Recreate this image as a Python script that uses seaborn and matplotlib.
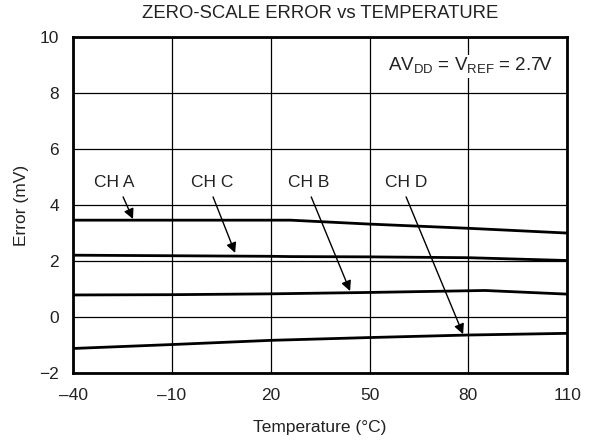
import matplotlib
matplotlib.use("Agg")
import matplotlib.pyplot as plt
import seaborn as sns
import pandas as pd

# Zero-scale error (mV) per channel versus temperature (°C)
temp = [-40, -10, 20, 26, 50, 80, 110]
ch_a = [3.46, 3.46, 3.46, 3.46, 3.32, 3.17, 3.00]
ch_c = [2.21, 2.19, 2.17, 2.16, 2.15, 2.12, 2.02]
temp_b = [-40, -10, 20, 50, 85, 110]
ch_b = [0.79, 0.80, 0.83, 0.88, 0.95, 0.82]
temp_d = [-40, -10, 20, 50, 80, 110]
ch_d = [-1.12, -0.98, -0.83, -0.73, -0.64, -0.58]

x_ticks = [-40, -10, 20, 50, 80, 110]
x_tick_labels = ["\u201340", "\u201310", "20", "50", "80", "110"]
y_ticks = [-2, 0, 2, 4, 6, 8, 10]
y_tick_labels = ["\u22122", "0", "2", "4", "6", "8", "10"]

# label position and arrow tip for each channel
labels = ["CH A", "CH C", "CH B", "CH D"]
label_x = [-27.5, 2.2, 31.4, 61.1]
tip_x = [-21.8, 9.2, 44.1, 78.4]
tip_y = [3.5, 2.29, 0.93, -0.61]
tail_x = [-24.8, 2.5, 32.3, 61.1]

frames = [
    pd.DataFrame({"T": temp, "E": ch_a, "ch": "A"}),
    pd.DataFrame({"T": temp, "E": ch_c, "ch": "C"}),
    pd.DataFrame({"T": temp_b, "E": ch_b, "ch": "B"}),
    pd.DataFrame({"T": temp_d, "E": ch_d, "ch": "D"}),
]
df = pd.concat(frames, ignore_index=True)

sns.set_theme(style="white")
plt.rcParams["font.family"] = ["Liberation Sans", "DejaVu Sans"]
plt.rcParams["mathtext.fontset"] = "custom"
plt.rcParams["mathtext.rm"] = "Liberation Sans"

TXT = "#222222"
FS = 12.5

fig = plt.figure(figsize=(5.89, 4.40), dpi=100)
ax = fig.add_axes([0.124, 0.152, 0.839, 0.764])

sns.lineplot(data=df, x="T", y="E", units="ch", estimator=None,
             color="black", linewidth=2.0, ax=ax, sort=False)

ax.set_xlim(-40, 110)
ax.set_ylim(-2, 10)
ax.set_xticks(x_ticks)
ax.set_xticklabels(x_tick_labels, fontsize=FS)
ax.set_yticks(y_ticks)
ax.set_yticklabels(y_tick_labels, fontsize=FS)
ax.tick_params(axis="x", length=0, pad=11, colors=TXT)
ax.tick_params(axis="y", length=0, pad=10, colors=TXT)
ax.grid(True, color="black", linewidth=0.9)
ax.set_axisbelow(True)
for s in ax.spines.values():
    s.set_visible(True)
    s.set_color("black")
    s.set_linewidth(2.0)

ax.set_xlabel("Temperature (\u00b0C)", fontsize=FS, color=TXT, va="center")
ax.set_ylabel("Error (mV)", fontsize=FS, color=TXT, va="center")
ax.xaxis.set_label_coords(0.5, -0.161)
ax.yaxis.set_label_coords(-0.105, 0.5)
fig.text(0.543, 0.970, "ZERO-SCALE ERROR vs TEMPERATURE", ha="center",
         va="center", fontsize=13.3, color=TXT)

for lab, lx, tx, ty, sx in zip(labels, label_x, tip_x, tip_y, tail_x):
    ax.text(lx, 4.79, lab, ha="center", va="center", fontsize=FS, color=TXT)
    ax.annotate("", xy=(tx, ty), xytext=(sx, 4.29),
                arrowprops=dict(arrowstyle="-|>", color="black", lw=1.0,
                                mutation_scale=15, shrinkA=0, shrinkB=0))

ax.text(105.8, 8.96, r"AV$_{\mathregular{DD}}$ = V$_{\mathregular{REF}}$ = 2.7V",
        ha="right", va="center", fontsize=13.5, color=TXT,
        bbox=dict(facecolor="white", edgecolor="none", pad=1))

fig.savefig("out.png", dpi=100)
